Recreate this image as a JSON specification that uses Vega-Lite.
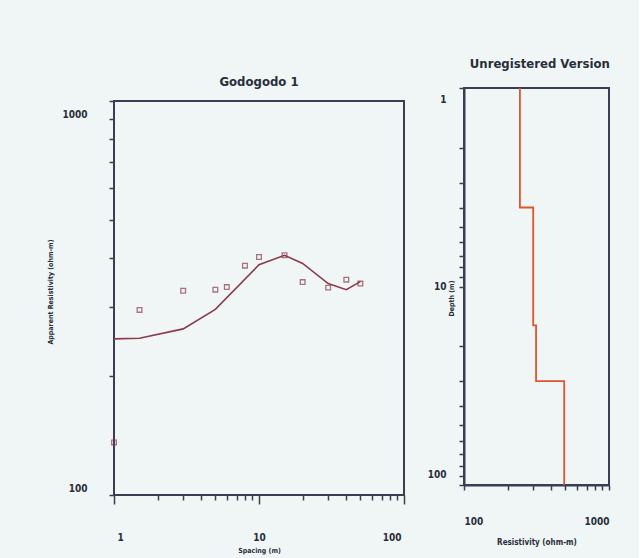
{
  "$schema": "https://vega.github.io/schema/vega-lite/v6.json",
  "background": "#eff6f5",
  "padding": {"left": 46, "top": 57, "right": 28, "bottom": 8},
  "spacing": 21,
  "config": {
    "font": "DejaVu Sans Condensed, Liberation Sans, sans-serif",
    "view": {"stroke": "#3a3e52", "strokeWidth": 2},
    "axis": {
      "grid": false,
      "domainColor": "#3a3e52",
      "domainWidth": 2,
      "tickColor": "#3a3e52",
      "tickWidth": 1.5,
      "labelColor": "#2a2d3a",
      "labelFontWeight": "bold",
      "labelFontSize": 10,
      "labelFlush": true,
      "format": "d",
      "titleColor": "#2a2d3a",
      "titleFontWeight": "bold"
    },
    "title": {"color": "#2a2d3a", "fontWeight": "bold", "fontSize": 13}
  },
  "datasets": {
    "observed": [
      {"spacing": 1, "resistivity": 136},
      {"spacing": 1.5, "resistivity": 295},
      {"spacing": 3, "resistivity": 330},
      {"spacing": 5, "resistivity": 332},
      {"spacing": 6, "resistivity": 337},
      {"spacing": 8, "resistivity": 382},
      {"spacing": 10, "resistivity": 402},
      {"spacing": 15, "resistivity": 406},
      {"spacing": 20, "resistivity": 347},
      {"spacing": 30, "resistivity": 336},
      {"spacing": 40, "resistivity": 352},
      {"spacing": 50, "resistivity": 344}
    ],
    "calculated": [
      {"spacing": 1, "resistivity": 249},
      {"spacing": 1.5, "resistivity": 250},
      {"spacing": 3, "resistivity": 264},
      {"spacing": 5, "resistivity": 296},
      {"spacing": 10, "resistivity": 384},
      {"spacing": 15, "resistivity": 406},
      {"spacing": 20, "resistivity": 387},
      {"spacing": 30, "resistivity": 344},
      {"spacing": 40, "resistivity": 332},
      {"spacing": 50, "resistivity": 348}
    ],
    "frame": [
      {"x1": 1, "x2": 100, "y1": 100, "y2": 1000}
    ],
    "model": [
      {"i": 1, "res": 243, "depth": 1},
      {"i": 2, "res": 243, "depth": 4},
      {"i": 3, "res": 300, "depth": 4},
      {"i": 4, "res": 300, "depth": 15.7},
      {"i": 5, "res": 314, "depth": 15.7},
      {"i": 6, "res": 314, "depth": 30},
      {"i": 7, "res": 491, "depth": 30},
      {"i": 8, "res": 491, "depth": 100}
    ]
  },
  "hconcat": [
    {
      "width": 290,
      "height": 407,
      "view": {"stroke": null},
      "title": {"text": "Godogodo 1", "offset": -1},
      "layer": [
        {
          "data": {"name": "frame"},
          "mark": {"type": "rect", "fillOpacity": 0, "stroke": "#3a3e52", "strokeWidth": 2},
          "encoding": {
            "x": {
              "field": "x1", "type": "quantitative",
              "scale": {"type": "log", "domain": [1, 100], "nice": false},
              "axis": {
                "title": "Spacing (m)", "titleFontSize": 7, "titlePadding": 4,
                "domain": false,
                "values": [1,2,3,4,5,6,7,8,9,10,20,30,40,50,60,70,80,90,100],
                "labelExpr": "datum.value == 1 || datum.value == 10 || datum.value == 100 ? datum.label : ''",
                "tickSize": {"condition": {"test": "datum.value == 1 || datum.value == 10 || datum.value == 100", "value": 9}, "value": 5},
                "labelPadding": 28,
                "labelFlushOffset": -3
              }
            },
            "x2": {"field": "x2"},
            "y": {
              "field": "y1", "type": "quantitative",
              "scale": {"type": "log", "domain": [100, 1079], "nice": false},
              "axis": {
                "title": "Apparent Resistivity (ohm-m)", "titleFontSize": 7, "titlePadding": 8,
                "domain": false,
                "labelFlush": false,
                "values": [100,200,300,400,500,600,700,800,900,1000],
                "labelExpr": "datum.value == 100 || datum.value == 1000 ? datum.label : ''",
                "labelOffset": {"condition": {"test": "datum.value == 1000", "value": 13}, "value": -7},
                "tickSize": 5,
                "labelPadding": 22
              }
            },
            "y2": {"field": "y2"}
          }
        },
        {
          "data": {"name": "calculated"},
          "mark": {"type": "line", "color": "#8a3a4c", "strokeWidth": 1.6},
          "encoding": {
            "x": {"field": "spacing", "type": "quantitative"},
            "y": {"field": "resistivity", "type": "quantitative"}
          }
        },
        {
          "data": {"name": "observed"},
          "mark": {"type": "square", "filled": false, "color": "#8a3a4c", "size": 22, "strokeWidth": 1.3},
          "encoding": {
            "x": {"field": "spacing", "type": "quantitative"},
            "y": {"field": "resistivity", "type": "quantitative"}
          }
        }
      ]
    },
    {
      "width": 145,
      "height": 397,
      "title": {"text": "Unregistered Version", "anchor": "end", "offset": 13},
      "data": {"name": "model"},
      "mark": {"type": "line", "color": "#e0552c", "strokeWidth": 1.8},
      "encoding": {
        "order": {"field": "i", "type": "quantitative"},
        "x": {
          "field": "res", "type": "quantitative",
          "scale": {"type": "log", "domain": [100, 1000]},
          "axis": {
            "title": "Resistivity (ohm-m)", "titleFontSize": 8, "titlePadding": 12,
            "values": [100,200,300,400,500,600,700,800,900,1000],
            "labelExpr": "datum.value == 100 || datum.value == 1000 ? datum.label : ''",
            "tickSize": 5,
            "labelPadding": 26,
            "labelFlushOffset": 0
          }
        },
        "y": {
          "field": "depth", "type": "quantitative",
          "scale": {"type": "log", "domain": [1, 100], "reverse": true},
          "axis": {
            "title": "Depth (m)", "titleFontSize": 7, "titleX": -10, "titleY": 210,
            "values": [1,2,3,4,5,6,7,8,9,10,20,30,40,50,60,70,80,90,100],
            "labelExpr": "datum.value == 1 || datum.value == 10 || datum.value == 100 ? datum.label : ''",
            "tickSize": 5,
            "labelPadding": 13,
            "labelFlushOffset": -6
          }
        }
      }
    }
  ]
}
